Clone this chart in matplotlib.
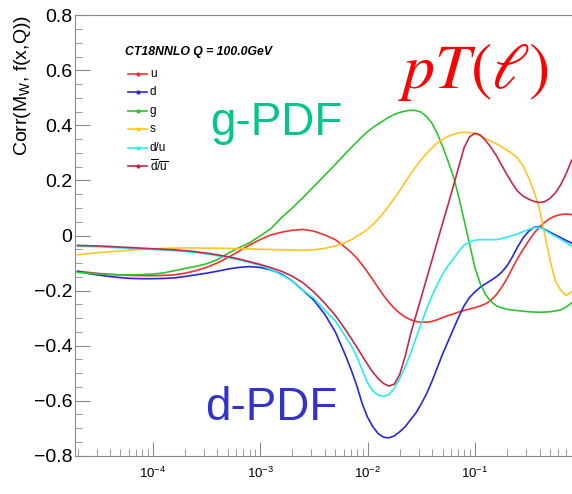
import numpy as np
import matplotlib
matplotlib.use("Agg")
import matplotlib.pyplot as plt
from matplotlib.lines import Line2D
from matplotlib.ticker import LogLocator, MultipleLocator, NullFormatter, FuncFormatter

plt.rcParams["font.family"] = ["Liberation Sans", "DejaVu Sans"]
plt.rcParams["mathtext.fontset"] = "custom"
plt.rcParams["mathtext.rm"] = "Liberation Sans"
plt.rcParams["mathtext.it"] = "Liberation Sans:italic"
plt.rcParams["mathtext.bf"] = "Liberation Sans:bold"

# log10(x) sample points (denser where the curves bend)
log_x = [-4.7, -4.6, -4.5, -4.4, -4.3, -4.2, -4.1, -4.0, -3.9, -3.8, -3.7, -3.6,
         -3.5, -3.4, -3.3, -3.2, -3.1, -3.0, -2.9, -2.8, -2.7, -2.6, -2.5, -2.4,
         -2.3,
         -2.2, -2.15, -2.1, -2.05, -2.0, -1.95, -1.9, -1.85, -1.8, -1.75, -1.7,
         -1.65, -1.6, -1.55, -1.5, -1.45, -1.4, -1.35, -1.3, -1.25, -1.2, -1.15,
         -1.1, -1.05, -1.0, -0.95, -0.9, -0.85, -0.8, -0.75, -0.7, -0.65, -0.6,
         -0.55, -0.5, -0.45, -0.4, -0.35, -0.3, -0.25, -0.2, -0.15, -0.1,
         0.0]

corr_u = [-0.130, -0.134, -0.138, -0.141, -0.143, -0.145, -0.146, -0.146, -0.145, -0.143,
          -0.137, -0.128, -0.116, -0.100, -0.080, -0.058, -0.035, -0.015, 0.002, 0.012,
          0.019, 0.022, 0.016, 0.002, -0.015,
          -0.045, -0.062, -0.082, -0.106, -0.133, -0.161, -0.190, -0.218, -0.243, -0.265,
          -0.282, -0.296, -0.306, -0.312, -0.315, -0.315, -0.312, -0.306, -0.298, -0.291,
          -0.285, -0.278, -0.272, -0.267, -0.262, -0.256, -0.248, -0.235, -0.215, -0.188,
          -0.156, -0.118, -0.082, -0.050, -0.020, 0.008, 0.030, 0.048, 0.062, 0.071,
          0.076, 0.078, 0.076,
          0.070]
corr_d = [-0.130, -0.138, -0.144, -0.149, -0.153, -0.156, -0.157, -0.157, -0.156, -0.154,
          -0.149, -0.143, -0.137, -0.130, -0.122, -0.116, -0.113, -0.116, -0.125, -0.140,
          -0.165, -0.200, -0.235, -0.285, -0.350,
          -0.440, -0.490, -0.545, -0.610, -0.660, -0.695, -0.720, -0.733, -0.735, -0.728,
          -0.713, -0.695, -0.670, -0.645, -0.612, -0.575, -0.530, -0.480, -0.430, -0.385,
          -0.340, -0.295, -0.255, -0.225, -0.205, -0.188, -0.175, -0.163, -0.150, -0.133,
          -0.110, -0.077, -0.040, -0.008, 0.015, 0.030, 0.032, 0.022, 0.012, 0.002,
          -0.008, -0.018, -0.027,
          -0.040]
corr_g = [-0.134, -0.137, -0.140, -0.142, -0.143, -0.143, -0.142, -0.140, -0.136, -0.128,
          -0.120, -0.112, -0.103, -0.088, -0.065, -0.045, -0.027, -0.002, 0.025, 0.065,
          0.100, 0.138, 0.178, 0.218, 0.258,
          0.300, 0.320, 0.340, 0.359, 0.377, 0.392, 0.405, 0.418, 0.430, 0.440,
          0.447, 0.452, 0.455, 0.454, 0.448, 0.432, 0.408, 0.370, 0.323, 0.270,
          0.214, 0.140, 0.055, -0.030, -0.117, -0.175, -0.215, -0.240, -0.255, -0.263,
          -0.268, -0.271, -0.273, -0.275, -0.277, -0.278, -0.279, -0.278, -0.277, -0.274,
          -0.270, -0.260, -0.245,
          -0.200]
corr_s = [-0.070, -0.066, -0.062, -0.059, -0.056, -0.053, -0.051, -0.049, -0.047, -0.046,
          -0.045, -0.045, -0.046, -0.046, -0.047, -0.048, -0.049, -0.050, -0.051, -0.052,
          -0.053, -0.054, -0.052, -0.047, -0.038,
          -0.024, -0.015, -0.003, 0.009, 0.022, 0.040, 0.060, 0.083, 0.108, 0.135,
          0.163, 0.193, 0.222, 0.250, 0.275, 0.298, 0.318, 0.336, 0.350, 0.360,
          0.368, 0.373, 0.375, 0.374, 0.370, 0.362, 0.352, 0.343, 0.333, 0.322,
          0.310, 0.297, 0.280, 0.252, 0.210, 0.160, 0.100, 0.005, -0.090, -0.165,
          -0.200, -0.218, -0.205,
          -0.160]
corr_du = [-0.039, -0.040, -0.041, -0.043, -0.045, -0.047, -0.049, -0.051, -0.053, -0.055,
           -0.058, -0.062, -0.067, -0.073, -0.080, -0.088, -0.098, -0.108, -0.124, -0.143,
           -0.165, -0.200, -0.228, -0.270, -0.310,
           -0.370, -0.400, -0.440, -0.487, -0.535, -0.565, -0.580, -0.584, -0.578, -0.555,
           -0.520, -0.478, -0.430, -0.375, -0.320, -0.267, -0.220, -0.178, -0.140, -0.110,
           -0.085, -0.058, -0.035, -0.024, -0.017, -0.015, -0.015, -0.015, -0.015, -0.011,
           -0.006, 0.000, 0.006, 0.014, 0.022, 0.028, 0.030, 0.020, 0.008, -0.003,
           -0.014, -0.026, -0.038,
           -0.050]
corr_dbub = [-0.036, -0.037, -0.038, -0.040, -0.042, -0.044, -0.046, -0.048, -0.050, -0.052,
             -0.055, -0.059, -0.064, -0.070, -0.077, -0.085, -0.095, -0.105, -0.117, -0.130,
             -0.148, -0.172, -0.205, -0.245, -0.290,
             -0.345, -0.375, -0.405, -0.437, -0.468, -0.497, -0.520, -0.538, -0.547, -0.540,
             -0.505, -0.440, -0.360, -0.292, -0.225, -0.157, -0.090, -0.022, 0.045, 0.112,
             0.180, 0.250, 0.320, 0.358, 0.372, 0.365, 0.345, 0.320, 0.290, 0.255,
             0.220, 0.188, 0.160, 0.143, 0.132, 0.124, 0.120, 0.123, 0.135, 0.155,
             0.185, 0.225, 0.272,
             0.330]

labels = ["u", "d", "g", "s", "d/u", r"$\overline{\mathrm{d}}/\overline{\mathrm{u}}$"]
colors = ["#F3302E", "#2626E0", "#2EC42E", "#FFC61E", "#26EEEE", "#C4284C"]
series = [corr_u, corr_d, corr_g, corr_s, corr_du, corr_dbub]

x = 10 ** np.array(log_x)

W, H = 572, 494
fig = plt.figure(figsize=(W / 100, H / 100), dpi=100)
ax = fig.add_axes([75 / W, 38.3 / H, 507.3 / W, 440.4 / H])

for ys, c in zip(series, colors):
    ax.plot(x, ys, color=c, lw=1.2, solid_joinstyle="round")

ax.set_xscale("log")
ax.set_xlim(1.89e-5, 1.0)
ax.set_ylim(-0.8, 0.8)

ax.xaxis.set_major_locator(LogLocator(base=10))
ax.xaxis.set_minor_locator(LogLocator(base=10, subs=np.arange(2, 10)))
ax.xaxis.set_minor_formatter(NullFormatter())
ax.xaxis.set_major_formatter(FuncFormatter(
    lambda v, p: "" if v >= 0.999 else r"$\mathdefault{10^{%d}}$" % round(np.log10(v))))
ax.yaxis.set_major_locator(MultipleLocator(0.2))
ax.yaxis.set_minor_locator(MultipleLocator(0.05))
ax.yaxis.set_major_formatter(FuncFormatter(
    lambda v, p: "0" if abs(v) < 1e-9 else f"{v:.1f}".replace("-", "\u2212")))

for s in ["top", "bottom", "left", "right"]:
    ax.spines[s].set_color("#8a8a8a")
ax.tick_params(axis="both", which="both", direction="in", color="#8a8a8a",
               top=False, right=False)
ax.tick_params(axis="y", which="major", length=11, labelsize=14, pad=2)
ax.tick_params(axis="y", which="minor", length=5)
ax.tick_params(axis="x", which="major", length=10, labelsize=9.5, pad=7)
ax.tick_params(axis="x", which="minor", length=5)

ax.set_ylabel(r"Corr(M$_{\mathrm{W}}$, f(x,Q))", fontsize=14, loc="top")
ax.yaxis.set_label_coords(-0.082, 1.0)
ax.set_xlabel("x", fontsize=13, loc="right", labelpad=2)

# legend block (ROOT style, no frame)
fig.text(125 / W, 1 - 52 / H, "CT18NNLO Q = 100.0GeV", fontsize=8.8,
         weight="bold", style="italic", va="center")
for i, (lab, c) in enumerate(zip(labels, colors)):
    yr = 1 - (74 + 18.4 * i) / H
    fig.add_artist(Line2D([128 / W, 147 / W], [yr, yr], color=c, lw=1.2,
                          transform=fig.transFigure))
    fig.add_artist(Line2D([137.5 / W], [yr], color=c, marker="o", markersize=2,
                          transform=fig.transFigure))
    fig.text(150 / W, yr, lab, fontsize=8.5, va="center")

ax.text(210, H - 135, "g-PDF", transform=None, fontsize=33, color="#00C58E")
ax.text(205, H - 420, "d-PDF", transform=None, fontsize=33, color="#3333CC")
ax.text(398, H - 88, r"$pT(\ell)$", transform=None, fontsize=46, color="#FF0000",
        math_fontfamily="stix")

fig.savefig("out.png", dpi=100)
